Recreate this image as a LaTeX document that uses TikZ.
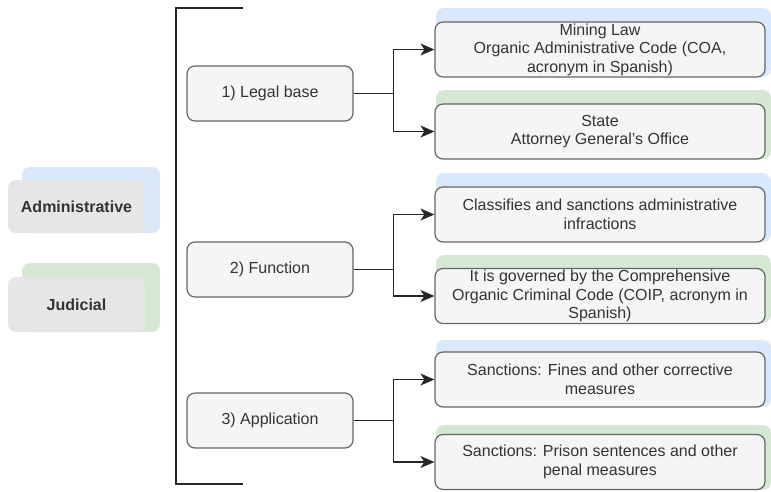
\documentclass[tikz,border=0pt]{standalone}
\usepackage{fontspec}
\setmainfont{Liberation Sans}
\usetikzlibrary{arrows.meta}
\definecolor{txtgray}{HTML}{333333}
\definecolor{linegray}{HTML}{666666}
\definecolor{boxfill}{HTML}{F5F5F5}
\definecolor{sidefill}{HTML}{E6E6E6}
\definecolor{blueback}{HTML}{DAE8FC}
\definecolor{greenback}{HTML}{D5E8D4}

\begin{document}
\begin{tikzpicture}[x=1pt,y=-1pt,
  side/.style={rectangle,rounded corners=8pt,fill=sidefill,minimum width=137pt,
    minimum height=53pt,font=\fontsize{16}{18.5}\selectfont\bfseries,text=txtgray},
  stage/.style={rectangle,rounded corners=8pt,draw=linegray,line width=1.2pt,
    fill=boxfill,minimum width=166pt,minimum height=55pt,
    font=\fontsize{16}{18.5}\selectfont,text=txtgray},
  item/.style={stage,minimum width=330pt,inner sep=0pt,align=center},
  adminback/.style={fill=blueback,rounded corners=8pt},
  judback/.style={fill=greenback,rounded corners=8pt},
  link/.style={-{Stealth[length=14pt,width=12pt,inset=4pt]},line width=1.3pt,
    black!85},
  bracket/.style={line width=1.5pt,black!85}
]
  \useasboundingbox (0,0) rectangle (771,491);

  % left: the two branches
  \fill[adminback] (22,167) rectangle (160,233);
  \fill[judback] (22,263) rectangle (160,332);
  \node[side] (admin) at (76.5,206.5) {Administrative};
  \node[side,minimum height=55pt] (judicial) at (76.5,304.5) {Judicial};

  \draw[bracket] (243,8) -- (176,8) -- (176,484) -- (243,484);

  % middle: the three aspects
  \node[stage] (legal) at (270,93.5) {1) Legal base};
  \node[stage] (function) at (270,269.5) {2) Function};
  \node[stage] (application) at (270,420.5) {3) Application};

  % right: what each branch does
  \fill[adminback] (436,8) rectangle (771,77);
  \fill[judback] (436,90) rectangle (771,159);
  \fill[adminback] (436,173) rectangle (771,242);
  \fill[judback] (436,255) rectangle (771,323);
  \fill[adminback] (436,340) rectangle (771,407);
  \fill[judback] (436,425) rectangle (771,490);

  \node[item] (mining) at (600,49.5)
    {Mining Law\\Organic Administrative Code (COA,\\acronym in Spanish)};
  \node[item] (attorney) at (600,131.5)
    {State\\Attorney General's Office};
  \node[item] (classifies) at (600,214.5)
    {Classifies and sanctions administrative\\infractions};
  \node[item] (governed) at (600,296)
    {It is governed by the Comprehensive\\Organic Criminal Code (COIP, acronym in\\Spanish)};
  \node[item] (fines) at (600,379.5)
    {Sanctions: Fines and other corrective\\measures};
  \node[item] (prison) at (600,462)
    {Sanctions: Prison sentences and other\\penal measures};

  \draw[link] (legal.east) -- ++(40,0) |- (mining.west);
  \draw[link] (legal.east) -- ++(40,0) |- (attorney.west);
  \draw[link] (function.east) -- ++(40,0) |- (classifies.west);
  \draw[link] (function.east) -- ++(40,0) |- (governed.west);
  \draw[link] (application.east) -- ++(40,0) |- (fines.west);
  \draw[link] (application.east) -- ++(40,0) |- (prison.west);
\end{tikzpicture}
\end{document}
